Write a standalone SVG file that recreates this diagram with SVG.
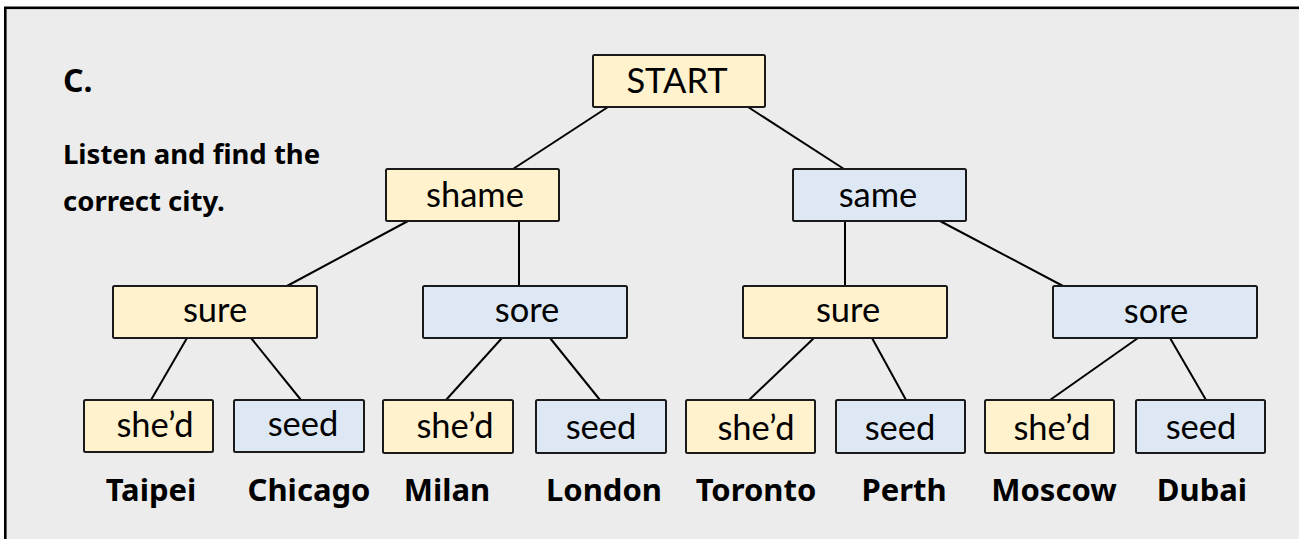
<svg xmlns="http://www.w3.org/2000/svg" width="1299" height="539" viewBox="0 0 1299 539">
<style>
.y{fill:#fff2cc;stroke:#1a1a1a;stroke-width:2}
.b{fill:#dee8f5;stroke:#1a1a1a;stroke-width:2}
.t{font-family:Lato,"Open Sans",sans-serif;font-size:34.5px;fill:#000;text-anchor:middle}
.c{font-family:"Noto Sans","DejaVu Sans",sans-serif;font-weight:bold;font-size:31px;fill:#000;text-anchor:middle}
.h{font-family:"Noto Sans","DejaVu Sans",sans-serif;font-weight:bold;fill:#000}
#edges line{stroke:#000;stroke-width:2}
</style>
<rect x="0" y="0" width="1299" height="539" fill="#fff"/>
<rect x="5.3" y="7.8" width="1310" height="550" fill="#ececec" stroke="#000" stroke-width="2.6"/>
<text class="h" x="63" y="92" font-size="32">C.</text>
<text class="h" x="63" y="164" font-size="27.5">Listen and find the</text>
<text class="h" x="63" y="211" font-size="27.5">correct city.</text>
<g id="edges">
<line x1="608" y1="107" x2="513" y2="169"/>
<line x1="748" y1="107" x2="844" y2="169"/>
<line x1="408" y1="221" x2="287" y2="286"/>
<line x1="519" y1="221" x2="519" y2="286"/>
<line x1="845" y1="221" x2="845" y2="286"/>
<line x1="940" y1="221" x2="1063" y2="286"/>
<line x1="187" y1="338" x2="151" y2="400"/>
<line x1="251" y1="338" x2="301" y2="400"/>
<line x1="502" y1="338" x2="446" y2="400"/>
<line x1="550" y1="338" x2="600" y2="400"/>
<line x1="814" y1="338" x2="749" y2="400"/>
<line x1="872" y1="338" x2="906" y2="400"/>
<line x1="1138" y1="338" x2="1050" y2="400"/>
<line x1="1170" y1="338" x2="1206" y2="400"/>
</g>
<g id="n-start"><rect class="y" x="593" y="55" width="172" height="52" rx="1.5"/><text class="t" x="677" y="93">START</text></g>
<g id="n-shame"><rect class="y" x="386" y="169" width="173" height="52" rx="1.5"/><text class="t" x="475" y="207">shame</text></g>
<g id="n-same"><rect class="b" x="793" y="169" width="173" height="52" rx="1.5"/><text class="t" x="878" y="207">same</text></g>
<g id="n-sure1"><rect class="y" x="113" y="286" width="204" height="52" rx="1.5"/><text class="t" x="215" y="322">sure</text></g>
<g id="n-sore1"><rect class="b" x="423" y="286" width="204" height="52" rx="1.5"/><text class="t" x="527" y="322">sore</text></g>
<g id="n-sure2"><rect class="y" x="743" y="286" width="204" height="52" rx="1.5"/><text class="t" x="848" y="322">sure</text></g>
<g id="n-sore2"><rect class="b" x="1053" y="286" width="204" height="52" rx="1.5"/><text class="t" x="1156" y="323">sore</text></g>
<g id="n-shed1"><rect class="y" x="84" y="400" width="129" height="52" rx="1.5"/><text class="t" x="155" y="437">she’d</text></g>
<g id="n-seed1"><rect class="b" x="234" y="400" width="130" height="52" rx="1.5"/><text class="t" x="303" y="436">seed</text></g>
<g id="n-shed2"><rect class="y" x="383" y="400" width="130" height="53" rx="1.5"/><text class="t" x="455" y="438">she’d</text></g>
<g id="n-seed2"><rect class="b" x="536" y="400" width="130" height="53" rx="1.5"/><text class="t" x="601" y="439">seed</text></g>
<g id="n-shed3"><rect class="y" x="686" y="400" width="129" height="53" rx="1.5"/><text class="t" x="756" y="440">she’d</text></g>
<g id="n-seed3"><rect class="b" x="836" y="400" width="129" height="53" rx="1.5"/><text class="t" x="900" y="440">seed</text></g>
<g id="n-shed4"><rect class="y" x="985" y="400" width="129" height="53" rx="1.5"/><text class="t" x="1052" y="440">she’d</text></g>
<g id="n-seed4"><rect class="b" x="1136" y="400" width="129" height="53" rx="1.5"/><text class="t" x="1201" y="439">seed</text></g>
<g id="cities">
<text class="c" x="151" y="501">Taipei</text>
<text class="c" x="309" y="501">Chicago</text>
<text class="c" x="447" y="501">Milan</text>
<text class="c" x="604" y="501">London</text>
<text class="c" x="756" y="501">Toronto</text>
<text class="c" x="904" y="501">Perth</text>
<text class="c" x="1054" y="501">Moscow</text>
<text class="c" x="1202" y="501">Dubai</text>
</g>
</svg>
